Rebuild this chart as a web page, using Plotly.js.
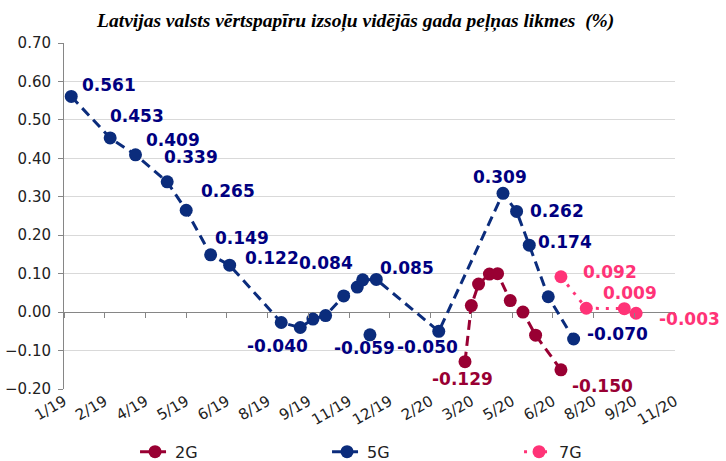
<!DOCTYPE html>
<html>
<head>
<meta charset="utf-8">
<script src="https://cdn.plot.ly/plotly-3.0.1.min.js"></script>
<style>html,body{margin:0;padding:0;background:#fff}#chart{width:726px;height:461px}</style>
</head>
<body>
<div id="chart"></div>
<script>
// ---- data ----
const dates2G = ['2020-03-19','2020-03-26','2020-04-03','2020-04-15','2020-04-24','2020-05-08','2020-05-22','2020-06-05','2020-07-03'];
const values2G = [-0.129, 0.017, 0.073, 0.099, 0.100, 0.030, 0.000, -0.060, -0.150];

const dates5G = ['2019-01-09','2019-02-21','2019-03-21','2019-04-25','2019-05-16','2019-06-12','2019-07-03','2019-08-29','2019-09-19','2019-10-03','2019-10-17','2019-11-06','2019-11-21','2019-11-27','2019-12-12','2020-02-19','2020-04-30','2020-05-15','2020-05-29','2020-06-19','2020-07-17'];
const values5G = [0.561, 0.453, 0.409, 0.339, 0.265, 0.149, 0.122, -0.027, -0.040, -0.018, -0.009, 0.042, 0.065, 0.084, 0.085, -0.050, 0.309, 0.262, 0.174, 0.040, -0.070];

const dates5Gextra = ['2019-12-05'];
const values5Gextra = [-0.059];

const dates7G = ['2020-07-03','2020-07-31','2020-09-11','2020-09-24'];
const values7G = [0.092, 0.010, 0.009, -0.003];

const tickLabels = ['1/19','2/19','4/19','5/19','6/19','8/19','9/19','11/19','12/19','2/20','3/20','5/20','6/20','8/20','9/20','11/20'];
const seriesNames = ['2G','5G','7G'];

// ---- styling ----
const c2 = '#990033', c5 = '#0B2C7C', c5txt = '#000080', c7 = '#FF3377';
const tickStart = Date.UTC(2019,0,1), stepDays = 45;
const tickvals = tickLabels.map((_, i) => new Date(tickStart + i*stepDays*864e5).toISOString().slice(0,10));
const xRange = [tickvals[0], tickvals[tickvals.length-1]];

const traces = [
  {name: seriesNames[0], x: dates2G, y: values2G, type: 'scatter', mode: 'lines+markers',
   line: {color: c2, width: 3, dash: '10px,6px'}, marker: {color: c2, size: 13}},
  {name: seriesNames[1], x: dates5G, y: values5G, type: 'scatter', mode: 'lines+markers',
   line: {color: c5, width: 3, dash: '10px,6px'}, marker: {color: c5, size: 13}},
  {name: seriesNames[2], x: dates7G, y: values7G, type: 'scatter', mode: 'lines+markers',
   line: {color: c7, width: 3, dash: '3px,7px'}, marker: {color: c7, size: 13}},
  {name: seriesNames[1], x: dates5Gextra, y: values5Gextra, type: 'scatter', mode: 'markers',
   xaxis: 'x2', marker: {color: c5, size: 13}, showlegend: false}
];

// label placement: [x array, y array, index, color, dx, dy]
const labelDefs = [
  [dates5G, values5G, 0, c5txt, 38, 11],
  [dates5G, values5G, 1, c5txt, 27, 22],
  [dates5G, values5G, 2, c5txt, 37, 15],
  [dates5G, values5G, 3, c5txt, 24, 25],
  [dates5G, values5G, 4, c5txt, 42, 19],
  [dates5G, values5G, 5, c5txt, 31, 17],
  [dates5G, values5G, 6, c5txt, 42, 7],
  [dates5G, values5G, 8, c5txt, -23, -19],
  [dates5G, values5G, 13, c5txt, -37, 17],
  [dates5G, values5G, 14, c5txt, 31, 11],
  [dates5G, values5G, 15, c5txt, -11, -16],
  [dates5G, values5G, 16, c5txt, -3, 16],
  [dates5G, values5G, 17, c5txt, 40, 0],
  [dates5G, values5G, 18, c5txt, 36, 3],
  [dates5G, values5G, 20, c5txt, 44, 5],
  [dates5Gextra, values5Gextra, 0, c5txt, -5, -13],
  [dates2G, values2G, 0, c2, -3, -17],
  [dates2G, values2G, 8, c2, 42, -16],
  [dates7G, values7G, 0, c7, 49, 5],
  [dates7G, values7G, 2, c7, 6, 16],
  [dates7G, values7G, 3, c7, 53, -6]
];
const annotations = labelDefs.map(([xs, ys, i, col, dx, dy]) => ({
  x: xs[i], y: ys[i], xref: 'x', yref: 'y',
  text: '<b>' + ys[i].toFixed(3) + '</b>', showarrow: false,
  xshift: dx, yshift: dy, xanchor: 'center', yanchor: 'middle',
  font: {family: 'DejaVu Sans', size: 17, color: col}
}));

const yMin = -0.2, yMax = 0.7;
const layout = {
  width: 726, height: 461,
  margin: {l: 64, r: 51, t: 43, b: 72},
  paper_bgcolor: '#fff', plot_bgcolor: '#fff',
  title: {text: '<b><i>Latvijas valsts vērtspapīru izsoļu vidējās gada peļņas likmes  (%)</i></b>',
          font: {family: 'Liberation Serif', size: 19.5, color: '#000'},
          x: 0.49, xanchor: 'center', y: 0.957, yanchor: 'middle'},
  xaxis: {type: 'date', range: xRange, tickvals: tickvals, ticktext: tickLabels,
          tickangle: -30, showgrid: false, zeroline: false, showline: false, ticks: '',
          automargin: false,
          tickfont: {family: 'DejaVu Sans', size: 15, color: '#222'}},
  xaxis2: {type: 'date', range: xRange, overlaying: 'x', anchor: 'free',
           position: (0 - yMin)/(yMax - yMin), side: 'bottom', automargin: false,
           tickvals: tickvals, showticklabels: false, ticks: 'outside', ticklen: 5,
           tickcolor: '#868686', tickwidth: 1, showgrid: false, zeroline: false, showline: false},
  yaxis: {range: [yMin, yMax], dtick: 0.1, tick0: 0, tickformat: '.2f', automargin: false,
          showgrid: true, gridcolor: '#d9d9d9', gridwidth: 1,
          zeroline: true, zerolinecolor: '#868686', zerolinewidth: 1,
          showline: true, linecolor: '#868686', linewidth: 1,
          ticks: 'outside', ticklen: 5, tickcolor: '#868686', ticklabelstandoff: 4,
          tickfont: {family: 'DejaVu Sans', size: 15, color: '#222'}},
  showlegend: true,
  legend: {orientation: 'h', xref: 'container', yref: 'container',
           x: 0.186, xanchor: 'left', y: 0.02, yanchor: 'middle',
           entrywidth: 147, entrywidthmode: 'pixels',
           font: {family: 'DejaVu Sans', size: 16, color: '#222'}, traceorder: 'normal'},
  annotations: annotations
};

Plotly.newPlot('chart', traces, layout, {displayModeBar: false, staticPlot: true});
</script>
</body>
</html>
